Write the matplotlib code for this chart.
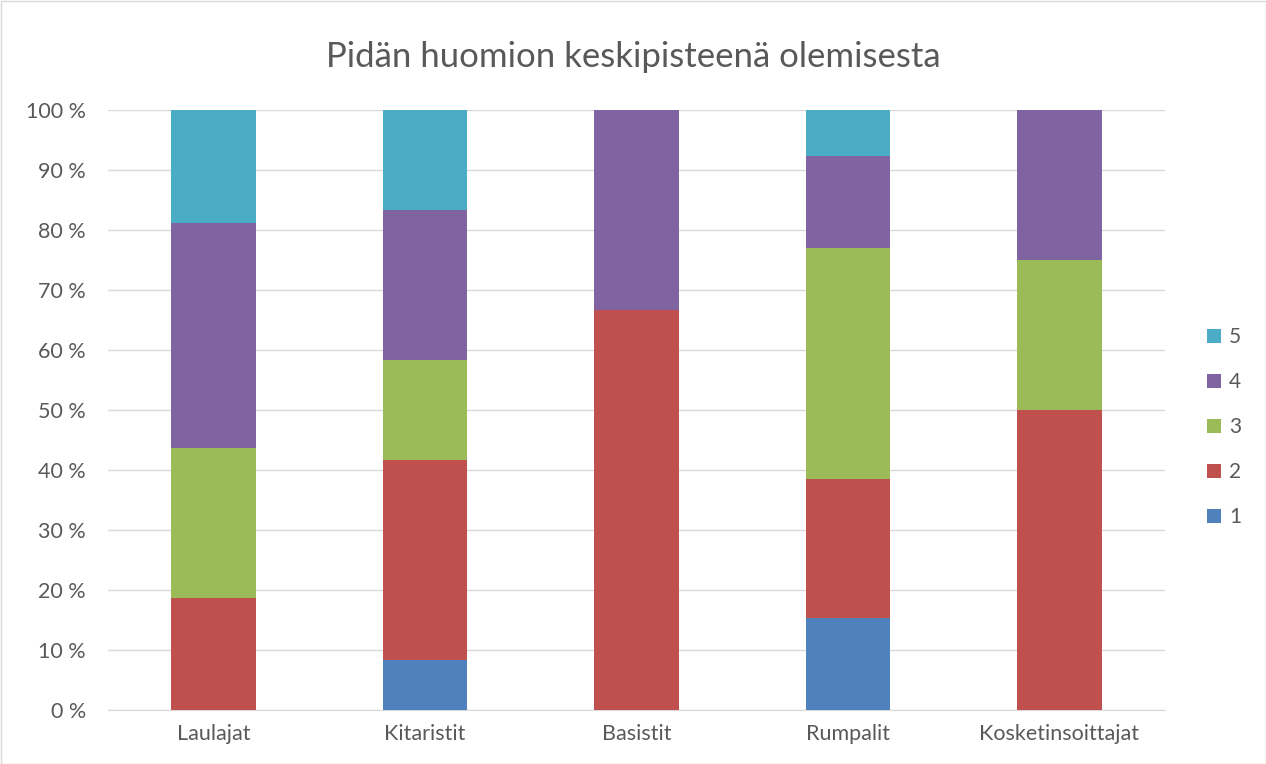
import numpy as np
import matplotlib.pyplot as plt
from matplotlib.patches import Rectangle

plt.rcParams['font.family'] = ['Lato', 'DejaVu Sans']

# Data (percent of respondents per answer)
kategoriat = ["Laulajat", "Kitaristit", "Basistit", "Rumpalit", "Kosketinsoittajat"]
vastaus_1 = [0.0, 8.33, 0.0, 15.38, 0.0]
vastaus_2 = [18.75, 33.33, 66.67, 23.08, 50.0]
vastaus_3 = [25.0, 16.67, 0.0, 38.46, 25.0]
vastaus_4 = [37.5, 25.0, 33.33, 15.38, 25.0]
vastaus_5 = [18.75, 16.67, 0.0, 7.69, 0.0]
sarjat = ["1", "2", "3", "4", "5"]
varit = ["#4F81BD", "#C0504D", "#9BBB59", "#8064A2", "#4BACC6"]

fig = plt.figure(figsize=(12.66, 7.64), dpi=100)
ax = fig.add_axes([108 / 1266, 54 / 764, 1057 / 1266, 600 / 764])

x = np.arange(len(kategoriat))
pohja = np.zeros(len(kategoriat))
for nimi, arvot, vari in zip(sarjat, [vastaus_1, vastaus_2, vastaus_3, vastaus_4, vastaus_5], varit):
    ax.bar(x, arvot, width=0.4, bottom=pohja, color=vari, label=nimi, zorder=3)
    pohja += np.array(arvot)

ax.set_xlim(-0.5, len(kategoriat) - 0.5)
ax.set_ylim(0, 100)
ax.set_yticks(range(0, 101, 10))
ax.set_yticklabels([f"{v} %" for v in range(0, 101, 10)])
ax.set_xticks(x)
ax.set_xticklabels(kategoriat)
ax.tick_params(colors="#595959", labelsize=15.5, length=0)
ax.tick_params(axis="y", pad=16)
ax.tick_params(axis="x", pad=10)
ax.grid(axis="y", color="#D9D9D9", linewidth=1, zorder=0)
for s in ["top", "right", "left"]:
    ax.spines[s].set_visible(False)
ax.spines["bottom"].set_color("#D9D9D9")

fig.text(0.5, 1 - 57 / 764, "Pidän huomion keskipisteenä olemisesta", ha="center", va="center",
         fontsize=25, color="#595959")

handles, labels = ax.get_legend_handles_labels()
leg = fig.legend(handles[::-1], labels[::-1], loc="center left", bbox_to_anchor=(1188 / 1266, 1 - 427 / 764),
                 frameon=False, fontsize=15, handlelength=0.68, handleheight=0.68, labelspacing=1.2,
                 handletextpad=0.4)
for t in leg.get_texts():
    t.set_color("#595959")

fig.patches.append(Rectangle((0.5 / 1266, 0.5 / 764), 1 - 1 / 1266, 1 - 1 / 764, transform=fig.transFigure,
                             fill=False, edgecolor="#D9D9D9", linewidth=1))

fig.savefig("out.png", dpi=100)
